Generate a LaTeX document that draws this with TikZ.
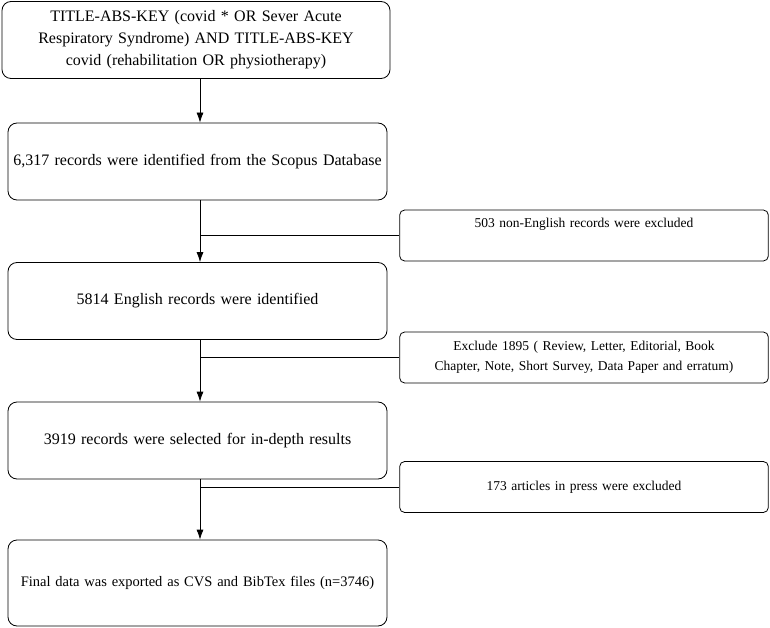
\documentclass[tikz,border=0pt]{standalone}
\usepackage{fontspec}
\setmainfont{Liberation Serif}
\usetikzlibrary{arrows,arrows.meta,positioning}
\hyphenpenalty=10000
\exhyphenpenalty=10000
\tikzset{
  basic/.style = {draw, thick, rectangle, rounded corners=9pt, align=center},
  stage/.style  = {basic, minimum width=379pt, minimum height=77pt, text width=372pt,
                  font=\fontsize{16}{22}\selectfont},
  exclude/.style = {basic, rounded corners=5pt, minimum width=368pt, minimum height=51pt,
                  text width=362pt, font=\fontsize{13.5}{20}\selectfont}
}
\begin{document}
\begin{tikzpicture}[x=1pt, y=-1pt, >={Latex[length=10pt,width=7pt]}]
\useasboundingbox (0,0) rectangle (770,628);

% main stages
\node[stage, minimum width=388pt, text width=350pt] (query) at (196,40)
  {TITLE-ABS-KEY (covid * OR Sever Acute Respiratory Syndrome) AND TITLE-ABS-KEY covid (rehabilitation OR physiotherapy)};
\node[stage] (scopus) at (197.5,161.5) {6,317 records were identified from the Scopus Database};
\node[stage] (english) at (197.5,301) {5814 English records were identified};
\node[stage] (selected) at (197.5,440.5) {3919 records were selected for in-depth results};
\node[stage, minimum height=86pt, font=\fontsize{14.5}{20}\selectfont] (final) at (197.5,583)
  {Final data was exported as CVS and BibTex files (n=3746)};

% excluded records
\node[exclude, text height=10pt, text depth=27pt] (ex1) at (584,235.5) {503 non-English records were excluded};
\node[exclude] (ex2) at (584,357.5) {Exclude 1895 ( Review, Letter, Editorial, Book Chapter, Note, Short Survey, Data Paper and erratum)};
\node[exclude] (ex3) at (584,487) {173 articles in press were excluded};

% arrows between the stages
\draw[thick,->] (query.south -| 200,0) -- (scopus.north -| 200,0);
\draw[thick,->] (scopus.south -| 200,0) -- (english.north -| 200,0);
\draw[thick,->] (english.south -| 200,0) -- (selected.north -| 200,0);
\draw[thick,->] (selected.south -| 200,0) -- (final.north -| 200,0);

% branches to the excluded records
\draw[thick] (ex1.west -| 200,0) -- (ex1.west);
\draw[thick] (ex2.west -| 200,0) -- (ex2.west);
\draw[thick] (ex3.west -| 200,0) -- (ex3.west);
\end{tikzpicture}
\end{document}
